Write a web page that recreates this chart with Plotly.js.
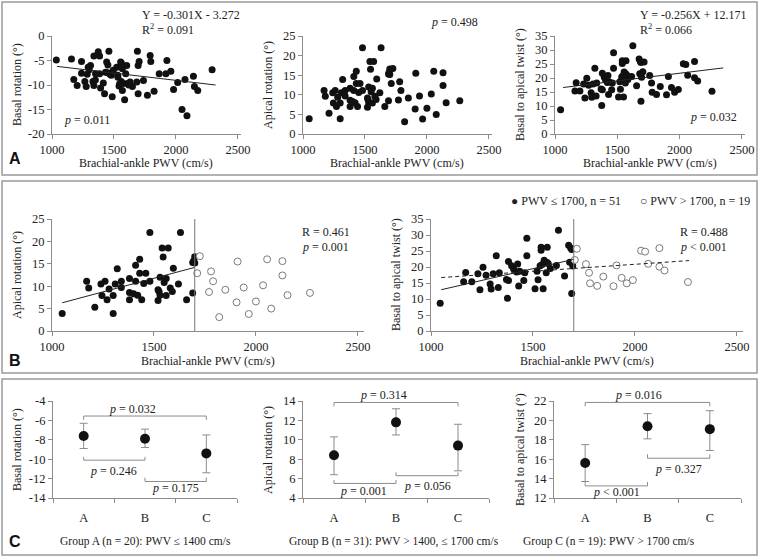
<!DOCTYPE html>
<html><head><meta charset="utf-8">
<script src="https://cdn.plot.ly/plotly-3.0.1.min.js"></script>
<style>body{margin:0;background:#fff}#chart{width:759px;height:557px}</style>
</head><body><div id="chart"></div>
<script>
// ---------- data ----------
const basalX = [1035,1157,1176,1203,1238,1238,1265,1276,1284,1292,1300,1311,1330,1338,1338,1350,1351,1373,1384,1384,1392,1414,1424,1432,1441,1450,1451,1459,1468,1478,1486,1495,1522,1530,1532,1541,1545,1554,1559,1560,1568,1568,1575,1586,1595,1603,1608,1620,1630,1649,1684,1689,1695,1695,1703,1738,1770,1792,1797,1824,1865,1919,1927,1959,1981,2014,2049,2073,2089,2141,2149,2176,2292];
const basalY = [-4.9,-4.7,-8.9,-10.1,-5.2,-7.6,-9.3,-10.3,-7.8,-6.4,-6.9,-6.0,-9.3,-10.1,-4.1,-9.0,-7.7,-3.2,-4.1,-7.7,-10.6,-9.6,-11.8,-7.4,-5.3,-7.5,-5.9,-3.1,-7.8,-8.0,-12.4,-7.0,-6.4,-8.0,-8.4,-10.2,-9.8,-5.3,-9.3,-5.5,-6.7,-11.1,-9.7,-13.0,-7.7,-6.0,-9.7,-10.0,-9.4,-10.3,-9.4,-3.1,-6.0,-11.8,-5.2,-9.1,-12.1,-4.0,-5.2,-11.3,-7.7,-7.7,-5.0,-7.2,-10.9,-9.5,-15.0,-8.9,-16.3,-8.2,-10.3,-11.1,-6.9];

const apicalX = [1050,1170,1180,1210,1240,1245,1260,1270,1280,1300,1300,1310,1320,1340,1340,1380,1380,1380,1400,1410,1410,1420,1430,1430,1440,1450,1460,1480,1480,1520,1520,1525,1530,1530,1540,1545,1550,1560,1560,1570,1580,1590,1595,1620,1630,1660,1690,1690,1695,1700,1700,
                 1725,1712,1780,1790,1770,1850,1820,1910,1905,1940,1965,2000,2035,2055,2075,2130,2130,2155,2265];
const apicalY = [3.9,11.1,9.6,5.3,10.5,7.9,11.1,7.0,9.4,7.9,3.9,10.5,13.9,11.1,9.7,11.7,8.6,7.0,8.3,14.7,11.1,8.0,16.0,12.9,7.0,10.6,12.9,22.0,11.1,6.8,9.2,8.8,8.0,12.0,18.5,16.5,10.8,11.7,7.9,18.5,9.6,8.8,14.0,10.5,22.0,7.0,8.5,15.3,15.7,16.6,15.2,
                 16.7,12.9,13.3,11.1,8.7,9.2,3.1,15.5,6.4,9.7,3.8,6.6,10.2,16.0,5.0,15.6,12.4,8.0,8.5];

const twistX = [1045,1160,1170,1200,1230,1240,1255,1270,1290,1295,1305,1320,1330,1335,1370,1375,1380,1380,1395,1405,1420,1425,1430,1435,1455,1460,1470,1470,1510,1520,1525,1535,1540,1540,1545,1550,1555,1565,1570,1570,1575,1585,1615,1625,1655,1675,1680,1685,1690,1690,1695,
                1715,1705,1760,1775,1780,1815,1845,1895,1910,1935,1960,1990,2030,2050,2065,2120,2120,2145,2260];
const twistY = [8.7,15.4,18.3,15.4,17.9,12.9,19.9,17.4,14.7,13.1,17.9,23.5,13.6,18.2,16.1,10.2,15.8,21.7,20.4,19.4,18.4,20.9,14.1,18.7,15.8,18.2,23.5,29.0,13.2,18.7,16.0,20.4,25.2,26.2,20.8,13.2,22.1,18.2,21.4,26.2,21.0,19.5,20.5,31.5,17.2,26.8,21.5,25.9,25.5,11.7,20.3,
                25.7,22.2,20.9,18.2,14.9,14.1,17.0,14.0,20.5,16.6,14.9,15.9,25.1,24.8,21.0,25.9,20.1,18.9,15.3];

const pwvCut = 1700;
// fitted lines: [x0, x1], [y0, y1]
const fitBasalX = [1040, 2320], fitBasalY = [-6.2, -10.0];
const fitTwistX = [1065, 2350], fitTwistY = [16.6, 23.6];
const fitApLowX = [1050, 1700], fitApLowY = [6.3, 14.2];
const fitTwLowX = [1050, 1700], fitTwLowY = [12.9, 22.4];
const fitTwAllX = [1050, 2265], fitTwAllY = [16.7, 22.0];

const groups = ['A','B','C'];
const grpBasal = [-7.6, -7.9, -9.4], grpBasalUp = [1.3, 1.0, 1.9], grpBasalDn = [1.3, 0.9, 2.0];
const grpApical = [8.4, 11.8, 9.4], grpApicalUp = [1.9, 1.4, 2.2], grpApicalDn = [2.0, 1.3, 2.6];
const grpTwist = [15.6, 19.4, 19.1], grpTwistUp = [1.9, 1.3, 1.9], grpTwistDn = [1.9, 1.3, 2.2];
// comparisons: [group i, group j, p label]
const cmpBasal  = [[1,3,'<i>p</i> = 0.032'],[1,2,'<i>p</i> = 0.246'],[2,3,'<i>p</i> = 0.175']];
const cmpApical = [[1,3,'<i>p</i> = 0.314'],[1,2,'<i>p</i> = 0.001'],[2,3,'<i>p</i> = 0.056']];
const cmpTwist  = [[1,3,'<i>p</i> = 0.016'],[2,3,'<i>p</i> = 0.327'],[1,2,'<i>p</i> &lt; 0.001']];

// ---------- helpers ----------
const W = 759, H = 557;
const PX = x => x / W, PY = y => 1 - y / H;
const FONT = 'Liberation Serif';
const FS = 12;
const TXT = '#222';
const AX = '#8c8c8c';

function axis(o) {
  return Object.assign({
    showgrid:false, zeroline:false, showline:true, linecolor:AX, linewidth:1,
    ticks:'outside', ticklen:4, tickcolor:AX, tickwidth:1,
    tickfont:{family:FONT, size:12.5, color:TXT}, tickmode:'array', fixedrange:true
  }, o);
}

const traces = [];
function dots(x, y, xa, ya, open) {
  traces.push({x, y, xaxis:xa, yaxis:ya, type:'scatter', mode:'markers', hoverinfo:'skip',
    marker: open ? {size:7, color:'#fff', line:{color:'#7a7a7a', width:1}}
                 : {size:7, color:'#111', line:{width:0}}, cliponaxis:false});
}
function line(x, y, xa, ya, dash) {
  traces.push({x, y, xaxis:xa, yaxis:ya, type:'scatter', mode:'lines', hoverinfo:'skip',
    line:{color:'#222', width:1, dash: dash || 'solid'}});
}
function split(X, Y, low) {
  const xs = [], ys = [];
  X.forEach((v,i) => { if ((v <= pwvCut) === low) { xs.push(v); ys.push(Y[i]); } });
  return [xs, ys];
}

// A row
dots(basalX, basalY, 'x', 'y');  line(fitBasalX, fitBasalY, 'x', 'y');
dots(apicalX, apicalY, 'x2', 'y2');
dots(twistX, twistY, 'x3', 'y3'); line(fitTwistX, fitTwistY, 'x3', 'y3');
// B row
let s = split(apicalX, apicalY, true); dots(s[0], s[1], 'x4', 'y4');
s = split(apicalX, apicalY, false); dots(s[0], s[1], 'x4', 'y4', true);
line(fitApLowX, fitApLowY, 'x4', 'y4');
s = split(twistX, twistY, true); dots(s[0], s[1], 'x5', 'y5');
s = split(twistX, twistY, false); dots(s[0], s[1], 'x5', 'y5', true);
line(fitTwLowX, fitTwLowY, 'x5', 'y5');
line(fitTwAllX, fitTwAllY, 'x5', 'y5', '4px,3px');
// C row
function grp(m, up, dn, xa, ya) {
  traces.push({x:[1,2,3], y:m, xaxis:xa, yaxis:ya, type:'scatter', mode:'markers', hoverinfo:'skip',
    marker:{size:10, color:'#111'},
    error_y:{type:'data', symmetric:false, array:up, arrayminus:dn, color:'#8c8c8c', thickness:1, width:4}});
}
grp(grpBasal, grpBasalUp, grpBasalDn, 'x6', 'y6');
grp(grpApical, grpApicalUp, grpApicalDn, 'x7', 'y7');
grp(grpTwist, grpTwistUp, grpTwistDn, 'x8', 'y8');

const pwvTicks = [1000,1500,2000,2500];
const cMinor = {tickmode:'array', tickvals:[0.5,1.5,2.5,3.5], ticks:'outside', ticklen:4, tickcolor:AX, showgrid:false};
const layout = {
  width:W, height:H, margin:{l:0,r:0,t:0,b:0}, paper_bgcolor:'#fff', plot_bgcolor:'rgba(0,0,0,0)',
  showlegend:false, font:{family:FONT, size:FS, color:TXT},
  xaxis: axis({domain:[PX(52),PX(241)], range:[1000,2525], anchor:'y', tickvals:pwvTicks}),
  yaxis: axis({domain:[PY(134),PY(36)], range:[-20,0], anchor:'x', tickvals:[-20,-15,-10,-5,0], ticktext:['-20','-15','-10','-5','0']}),
  xaxis2: axis({domain:[PX(303),PX(492)], range:[1000,2525], anchor:'y2', tickvals:pwvTicks}),
  yaxis2: axis({domain:[PY(134),PY(36)], range:[0,25], anchor:'x2', tickvals:[0,5,10,15,20,25]}),
  xaxis3: axis({domain:[PX(555),PX(745)], range:[1000,2525], anchor:'y3', tickvals:pwvTicks}),
  yaxis3: axis({domain:[PY(134),PY(36)], range:[0,35], anchor:'x3', tickvals:[0,5,10,15,20,25,30,35]}),
  xaxis4: axis({domain:[PX(52),PX(364)], range:[1000,2530], anchor:'y4', tickvals:pwvTicks}),
  yaxis4: axis({domain:[PY(331),PY(219)], range:[0,25], anchor:'x4', tickvals:[0,5,10,15,20,25]}),
  xaxis5: axis({domain:[PX(431),PX(743)], range:[1000,2530], anchor:'y5', tickvals:pwvTicks}),
  yaxis5: axis({domain:[PY(331),PY(219)], range:[0,35], anchor:'x5', tickvals:[0,5,10,15,20,25,30,35]}),
  xaxis6: axis({domain:[PX(53),PX(237)], range:[0.5,3.5], anchor:'y6', tickvals:[1,2,3], ticktext:groups, ticks:'', ticklabelstandoff:8, minor:cMinor}),
  yaxis6: axis({domain:[PY(498),PY(401)], range:[-14,-4], anchor:'x6', tickvals:[-14,-12,-10,-8,-6,-4], ticktext:['-14','-12','-10','-8','-6','-4']}),
  xaxis7: axis({domain:[PX(303),PX(489)], range:[0.5,3.5], anchor:'y7', tickvals:[1,2,3], ticktext:groups, ticks:'', ticklabelstandoff:8, minor:cMinor}),
  yaxis7: axis({domain:[PY(498),PY(401)], range:[4,14], anchor:'x7', tickvals:[4,6,8,10,12,14]}),
  xaxis8: axis({domain:[PX(554),PX(741)], range:[0.5,3.5], anchor:'y8', tickvals:[1,2,3], ticktext:groups, ticks:'', ticklabelstandoff:8, minor:cMinor}),
  yaxis8: axis({domain:[PY(498),PY(401)], range:[12,22], anchor:'x8', tickvals:[12,14,16,18,20,22]}),
  shapes:[], annotations:[]
};

// panel frames
[[2,175],[181,373],[379,555]].forEach(([t,b]) => layout.shapes.push({type:'rect', xref:'paper', yref:'paper',
  x0:PX(2), x1:PX(757), y0:PY(b), y1:PY(t), line:{color:'#9a9a9a', width:1.5}}));
// cut-off lines in B
[['x4','y4',25],['x5','y5',35]].forEach(([xa,ya,top]) => layout.shapes.push({type:'line', xref:xa, yref:ya,
  x0:pwvCut, x1:pwvCut, y0:0, y1:top, line:{color:'#777', width:1}}));

const A = layout.annotations;
function note(text, x, y, opt) {
  A.push(Object.assign({text, x:PX(x), y:PY(y), xref:'paper', yref:'paper', showarrow:false,
    font:{family:FONT, size:FS, color:TXT}, xanchor:'center', yanchor:'middle'}, opt || {}));
}
// panel letters
[['A',158],['B',360],['C',541]].forEach(([t,y]) => note('<b>'+t+'</b>', 15, y,
  {font:{family:'Liberation Sans', size:16, color:'#111'}}));
// x titles
const pwvTitle = 'Brachial-ankle PWV (cm/s)';
[146, 397, 650].forEach(x => note(pwvTitle, x, 163));
[208, 587].forEach(x => note(pwvTitle, x, 361));
note('Group A (n = 20): PWV ≤ 1400 cm/s', 145, 541, {font:{family:FONT, size:11.5, color:TXT}});
note('Group B (n = 31): PWV &gt; 1400, ≤ 1700 cm/s', 394, 541, {font:{family:FONT, size:11.5, color:TXT}});
note('Group C (n = 19): PWV &gt; 1700 cm/s', 609, 541, {font:{family:FONT, size:11.5, color:TXT}});
// y titles
const rot = {textangle:-90};
note('Basal rotation (°)', 17, 85, rot);
note('Apical rotation (°)', 268, 85, rot);
note('Basal to apical twist (°)', 520, 85, rot);
note('Apical rotation (°)', 17, 275, rot);
note('Basal to apical twist (°)', 396, 275, rot);
note('Basal rotation (°)', 17, 450, rot);
note('Apical rotation (°)', 268, 450, rot);
note('Basal to apical twist (°)', 520, 450, rot);
// stats text
note('Y = -0.301X - 3.272', 140, 15, {xanchor:'left'});
note('R<sup>2</sup> = 0.091', 140, 30, {xanchor:'left'});
note('<i>p</i> = 0.011', 62, 120, {xanchor:'left'});
note('<i>p</i> = 0.498', 429, 22, {xanchor:'left'});
note('Y = -0.256X + 12.171', 638, 15, {xanchor:'left'});
note('R<sup>2</sup> = 0.066', 638, 30, {xanchor:'left'});
note('<i>p</i> = 0.032', 688, 117, {xanchor:'left'});
note('R = 0.461', 300, 232, {xanchor:'left'});
note('<i>p</i> = 0.001', 300, 247, {xanchor:'left'});
note('R = 0.488', 678, 232, {xanchor:'left'});
note('<i>p</i> &lt; 0.001', 678, 247, {xanchor:'left'});
// legend
note('● PWV ≤ 1700, n = 51', 509, 201, {xanchor:'left'});
note('○ PWV &gt; 1700, n = 19', 638, 201, {xanchor:'left'});

// comparison brackets in C: [level, tick direction, text x, text y]
function toPaperY(axName, v) {
  const ax = layout[axName], d = ax.domain, r = ax.range;
  return d[0] + (v - r[0]) / (r[1] - r[0]) * (d[1] - d[0]);
}
function brackets(cmp, geo, xa, ya, yaName) {
  cmp.forEach((c, k) => {
    const [i, j, txt] = c, [lvl, tk, tx, ty] = geo[k];
    layout.shapes.push({type:'path', xref:xa, yref:ya,
      path:`M${i},${lvl+tk} L${i},${lvl} L${j},${lvl} L${j},${lvl+tk}`, line:{color:'#8c8c8c', width:1}});
    A.push({text:txt, x:tx, y:toPaperY(yaName, ty), xref:xa, yref:'paper', showarrow:false,
      xanchor:'center', yanchor:'middle', font:{family:FONT, size:FS, color:TXT}});
  });
}
brackets(cmpBasal,  [[-5.55,-0.4,1.8,-4.85],[-10.1,0.35,1.48,-11.2],[-12.3,0.4,2.5,-13.0]], 'x6', 'y6', 'yaxis6');
brackets(cmpApical, [[13.85,-0.4,1.8,14.6],[5.5,0.35,1.47,4.75],[6.3,0.35,2.5,5.2]], 'x7', 'y7', 'yaxis7');
brackets(cmpTwist,  [[21.85,-0.4,1.85,22.6],[16.1,0.4,2.5,15.0],[13.25,0.4,1.5,12.6]], 'x8', 'y8', 'yaxis8');

Plotly.newPlot('chart', traces, layout, {displayModeBar:false, staticPlot:true});
</script></body></html>
